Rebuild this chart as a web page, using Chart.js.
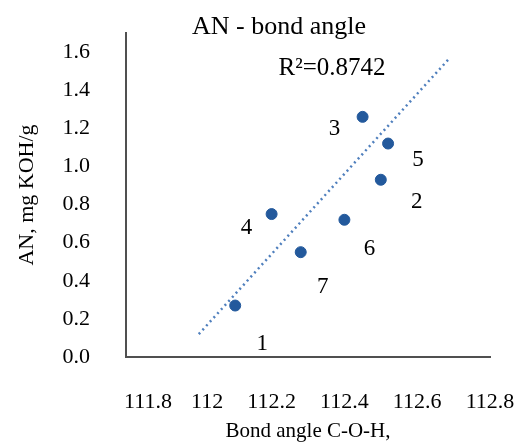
<!DOCTYPE html>
<html>
<head>
<meta charset="utf-8">
<script src="https://cdn.jsdelivr.net/npm/chart.js@4/dist/chart.umd.min.js"></script>
<style>
  html, body { margin: 0; padding: 0; background: #ffffff; }
  #wrap { width: 516px; height: 442px; }
</style>
</head>
<body>
<div id="wrap"><canvas id="c" width="516" height="442"></canvas></div>
<script>
// ---- data ----
const pointLabels = ['1', '2', '3', '4', '5', '6', '7'];
const bondAngle   = [112.10, 112.50, 112.45, 112.20, 112.52, 112.40, 112.28];
const acidNumber  = [0.27, 0.93, 1.26, 0.75, 1.12, 0.72, 0.55];
const trendX = [112.00, 112.69];
const trendY = [0.12, 1.57];
const xTickLabels = ['111.8', '112', '112.2', '112.4', '112.6', '112.8'];
const yTickLabels = ['0.0', '0.2', '0.4', '0.6', '0.8', '1.0', '1.2', '1.4', '1.6'];
const chartTitle = 'AN - bond angle';
const r2Text = 'R\u00B2=0.8742';
const xTitle = 'Bond angle C-O-H,';
const yTitle = 'AN, mg KOH/g';

const SERIF = '"Liberation Serif", "Times New Roman", serif';

// label offsets (pixels) relative to each point, same order as pointLabels
const labelOffsets = [[27, 38], [36, 22], [-28, 12], [-25, 14], [30, 16], [25, 29], [22, 35]];
// leading spacing of the first x tick labels, as placed in the reference
const xTickLead = [8, 3, 0, 0, 0, 0];

const textPlugin = {
  id: 'texts',
  afterDraw(chart) {
    const ctx = chart.ctx;
    ctx.save();
    ctx.fillStyle = '#000000';
    ctx.textAlign = 'center';
    ctx.textBaseline = 'middle';
    ctx.font = '26px ' + SERIF;
    ctx.fillText(chartTitle, 279, 27);
    ctx.font = '25px ' + SERIF;
    ctx.fillText(r2Text, 332, 68);
    ctx.font = '23px ' + SERIF;
    const meta = chart.getDatasetMeta(0);
    meta.data.forEach((pt, i) => {
      const o = labelOffsets[i];
      ctx.fillText(pointLabels[i], pt.x + o[0], pt.y + o[1]);
    });
    ctx.restore();
  }
};

new Chart(document.getElementById('c'), {
  type: 'scatter',
  data: {
    datasets: [
      {
        label: 'AN',
        data: bondAngle.map((x, i) => ({ x: x, y: acidNumber[i] })),
        backgroundColor: '#23599c',
        borderColor: '#23599c',
        pointRadius: 5.5,
        pointHoverRadius: 5.5,
        showLine: false
      },
      {
        label: 'Trend',
        data: trendX.map((x, i) => ({ x: x, y: trendY[i] })),
        showLine: true,
        borderColor: '#4f7fbd',
        borderWidth: 2.5,
        borderDash: [2, 3.5],
        pointRadius: 0,
        fill: false
      }
    ]
  },
  options: {
    responsive: false,
    animation: false,
    devicePixelRatio: 1,
    layout: { padding: { left: 0, right: 26, top: 33, bottom: 0 } },
    plugins: {
      legend: { display: false },
      title: { display: false },
      tooltip: { enabled: false }
    },
    scales: {
      x: {
        type: 'linear',
        min: 111.8,
        max: 112.8,
        afterFit: (s) => { s.height = 85; s.paddingLeft = 0; s.paddingRight = 0; },
        grid: { display: false, drawTicks: false },
        border: { display: true, color: '#505050', width: 2 },
        ticks: {
          stepSize: 0.2,
          padding: 32,
          autoSkip: false,
          maxRotation: 0,
          color: '#000000',
          font: { family: SERIF, size: 22 },
          callback: (v, i) => ' '.repeat(xTickLead[i] || 0) + xTickLabels[i]
        },
        title: {
          display: true,
          text: xTitle,
          color: '#000000',
          font: { family: SERIF, size: 21, lineHeight: 1.0 },
          padding: { top: 0, bottom: 0 }
        }
      },
      y: {
        type: 'linear',
        min: 0,
        max: 1.7,
        afterFit: (s) => { s.width = 126; s.paddingTop = 0; s.paddingBottom = 0; },
        grid: { display: false, drawTicks: false },
        border: { display: true, color: '#505050', width: 2 },
        ticks: {
          stepSize: 0.2,
          includeBounds: false,
          padding: 36,
          color: '#000000',
          font: { family: SERIF, size: 22 },
          callback: (v, i) => yTickLabels[i]
        },
        title: {
          display: true,
          text: yTitle,
          color: '#000000',
          font: { family: SERIF, size: 22, lineHeight: 1.2 },
          padding: { top: 14, bottom: 0 }
        }
      }
    }
  },
  plugins: [textPlugin]
});
</script>
</body>
</html>
